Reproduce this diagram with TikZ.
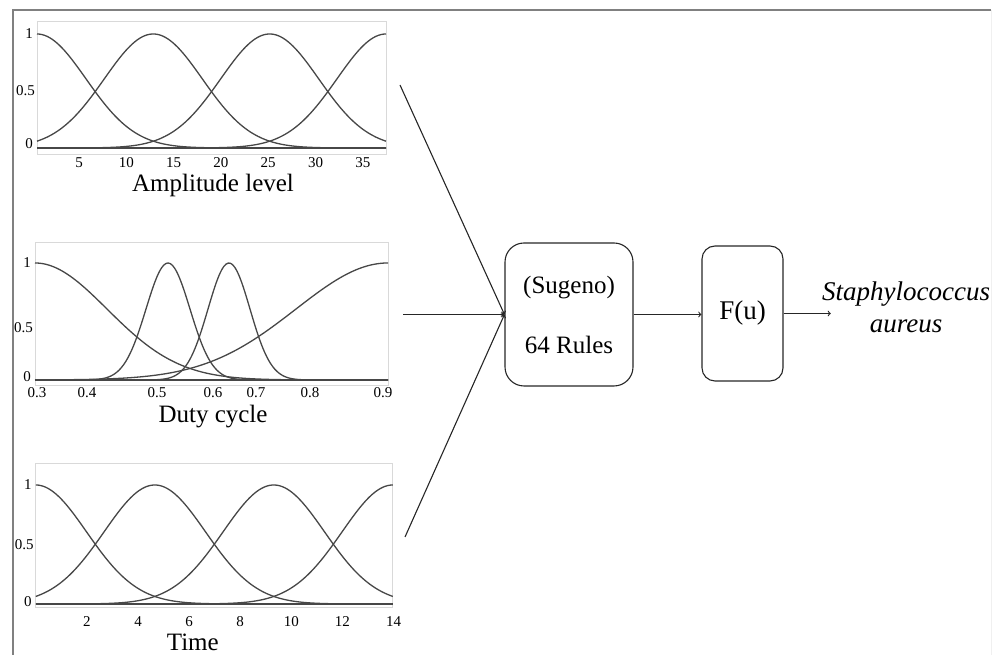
\documentclass[tikz,border=0pt]{standalone}
\usepackage{fontspec}
\setmainfont{Liberation Serif}
\usetikzlibrary{positioning,calc}

\begin{document}
\begin{tikzpicture}[x=1pt, y=1pt,
    mf/.style={draw=black!72, line width=1.3pt},
    axbox/.style={draw=black!15, line width=0.8pt},
    tick/.style={font=\fontsize{15}{15}\selectfont, inner sep=0pt},
    ylab/.style={tick, anchor=east},
    axname/.style={font=\fontsize{25}{25}\selectfont, anchor=base, inner sep=0pt},
    block/.style={draw=black!85, line width=1.1pt, font=\fontsize{25}{30}\selectfont, align=center},
    link/.style={draw=black!85, line width=1.1pt, ->},
]
    \useasboundingbox (0,0) rectangle (1003,655);
    % frame
    \draw[black!50, line width=1.2pt] (13,0) -- (13,645) -- (991,645);
    \draw[black!6, line width=0.8pt] (991,645) -- (991,0);

    % Amplitude level
    \begin{scope}[shift={(37,507)}]
    \draw[axbox] (0,-6) rectangle (349,127);
    \draw[mf] (0,0) -- (349,0);
    \foreach \c in {0,116.3,232.7,349} {
        \draw[mf] plot[domain=0:349, samples=140, smooth] (\x, {114*exp(-0.5*((\x-\c)/49)^2)});
    }
    \foreach \v [count=\k] in {5,10,...,35} {
        \node[tick] (a\v) at ({-5.3+47.3*\k}, -15) {\v};
    }
    \node[ylab] (a1y) at (-4,114) {1};
    \node[ylab] (ahy) at (-2,57) {0.5};
    \node[ylab] (a0y) at (-4,4) {0};
    \node[axname] (amp) at (176,-44) {Amplitude level};
    \end{scope}

    % Duty cycle
    \begin{scope}[shift={(35,275)}]
    \draw[axbox] (0,-5) rectangle (353,138);
    \draw[mf] (0,0) -- (353,0);
    \foreach \c/\s in {0/72, 133/22, 194/21, 353/92} {
        \draw[mf] plot[domain=0:353, samples=160, smooth] (\x, {117*exp(-0.5*((\x-\c)/\s)^2)});
    }
    \foreach \p/\t in {2/3, 52/4, 122/5, 178/6, 221/7, 275/8, 348/9} {
        \node[tick] (d\t) at (\p, -13) {0.\t};
    }
    \node[ylab] (d1y) at (-4,117) {1};
    \node[ylab] (dhy) at (-2,52) {0.5};
    \node[ylab] (d0y) at (-4,3) {0};
    \node[axname] (duty) at (178,-43) {Duty cycle};
    \end{scope}

    % Time
    \begin{scope}[shift={(35.8,51)}]
    \draw[axbox] (0,-3) rectangle (357,141);
    \draw[mf] (0,0) -- (357,0);
    \foreach \c in {0,119,238,357} {
        \draw[mf] plot[domain=0:357, samples=140, smooth] (\x, {119*exp(-0.5*((\x-\c)/50.7)^2)});
    }
    \foreach \v [count=\k] in {2,4,...,14} {
        \node[tick] (t\v) at (51.1*\k, -18) {\v};
    }
    \node[ylab] (t1y) at (-4,119) {1};
    \node[ylab] (thy) at (-2,59) {0.5};
    \node[ylab] (t0y) at (-4,2) {0};
    \node[axname] (time) at (157,-47) {Time};
    \end{scope}

    % inference blocks
    \node[block, minimum width=128pt, minimum height=143pt, rounded corners=19pt] (rules) at (569,340.5) {(Sugeno)\\[30pt]64 Rules};
    \node[block, minimum width=81pt, minimum height=135pt, rounded corners=13pt, font=\fontsize{27}{30}\selectfont] (fu) at (742.5,341.5) {F(u)};
    \node[font=\fontsize{27}{32}\selectfont\itshape, align=center, inner sep=0pt] (out) at (906,348) {Staphylococcus\\aureus};

    % connectors
    \coordinate (in1) at (400,570);
    \coordinate (in2) at (403,340.5);
    \coordinate (in3) at (405,118);
    \foreach \i in {1,2,3} {
        \draw[link] (in\i) -- (rules.west);
    }
    \draw[link] (rules.east) -- (rules.east -| fu.west);
    \draw[link, shorten >=-9pt] (fu.east) -- (fu.east -| out.west);
\end{tikzpicture}
\end{document}
